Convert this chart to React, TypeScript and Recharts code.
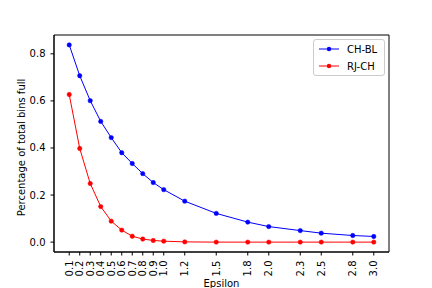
import React from 'react';
import {
  LineChart,
  Line,
  XAxis,
  YAxis,
  ReferenceArea,
} from 'recharts';

// epsilon values on the x axis
const epsilon = [0.1, 0.2, 0.3, 0.4, 0.5, 0.6, 0.7, 0.8, 0.9, 1.0, 1.2, 1.5, 1.8, 2.0, 2.3, 2.5, 2.8, 3.0];

// percentage of total bins full
const chBl = [0.838, 0.707, 0.601, 0.513, 0.444, 0.38, 0.334, 0.291, 0.253, 0.223, 0.174, 0.122, 0.085, 0.066, 0.049, 0.038, 0.028, 0.024];
const rjCh = [0.627, 0.398, 0.249, 0.151, 0.089, 0.051, 0.025, 0.013, 0.007, 0.004, 0.001, 0.0, 0.0, 0.0, 0.0, 0.0, 0.0, 0.0];

const yTicks = [0, 0.2, 0.4, 0.6, 0.8];

const seriesNames = ['CH-BL', 'RJ-CH'];
const seriesColors = ['#0000ff', '#ff0000'];

const xDomain: [number, number] = [-0.045, 3.145];
const yDomain: [number, number] = [-0.042, 0.88];

const data = epsilon.map((e, i) => ({ eps: e, chbl: chBl[i], rjch: rjCh[i] }));

const FONT = '"DejaVu Sans", sans-serif';

const XTick = (props: any) => {
  const { x, y, payload } = props;
  const ty = y + 3;
  return (
    <text
      x={x}
      y={ty}
      transform={`rotate(-90, ${x}, ${ty})`}
      textAnchor="end"
      dominantBaseline="central"
      fontSize={10}
      fontFamily={FONT}
      fill="#000"
    >
      {Number(payload.value).toFixed(1)}
    </text>
  );
};

const YTick = (props: any) => {
  const { x, y, payload } = props;
  return (
    <text x={x - 3} y={y} textAnchor="end" dominantBaseline="central" fontSize={10} fontFamily={FONT} fill="#000">
      {Number(payload.value).toFixed(1)}
    </text>
  );
};

// rotated y axis title, centred on the plot height
const YLabel = (props: any) => {
  const { viewBox } = props;
  const cx = 21;
  const cy = viewBox.y + viewBox.height / 2 + 4;
  return (
    <text
      x={cx}
      y={cy}
      transform={`rotate(-90, ${cx}, ${cy})`}
      textAnchor="middle"
      dominantBaseline="central"
      fontSize={10}
      fontFamily={FONT}
      fill="#000"
    >
      Percentage of total bins full
    </text>
  );
};

const LegendBox = () => (
  <div
    style={{
      position: 'absolute',
      left: 313,
      top: 39,
      width: 72,
      height: 37,
      border: '1px solid #cccccc',
      borderRadius: 3,
      background: 'rgba(255,255,255,0.8)',
      boxSizing: 'border-box',
      fontFamily: FONT,
      fontSize: 10,
    }}
  >
    {seriesNames.map((name, i) => (
      <div key={name} style={{ position: 'absolute', left: 4, top: 2 + i * 17, height: 14, display: 'flex', alignItems: 'center' }}>
        <svg width={22} height={14}>
          <line x1={1} y1={7} x2={21} y2={7} stroke={seriesColors[i]} strokeWidth={1} />
          <circle cx={11} cy={7} r={2.2} fill={seriesColors[i]} />
        </svg>
        <span style={{ marginLeft: 7, color: '#000' }}>{name}</span>
      </div>
    ))}
  </div>
);

export default function App() {
  return (
    <div style={{ position: 'absolute', left: 0, top: 0, width: 432, height: 288, background: '#fff' }}>
      <LineChart width={432} height={288} data={data} margin={{ top: 35, right: 43, left: 0, bottom: 0 }}>
        <XAxis
          dataKey="eps"
          type="number"
          domain={xDomain}
          ticks={epsilon}
          allowDataOverflow
          height={36}
          tick={<XTick />}
          tickSize={3.5}
          tickLine={{ stroke: '#000' }}
          axisLine={{ stroke: '#000' }}
          interval={0}
          label={{ value: 'Epsilon', position: 'insideBottom', offset: 0, dy: -1, fontSize: 10, fontFamily: FONT, fill: '#000' }}
        />
        <YAxis
          type="number"
          domain={yDomain}
          ticks={yTicks}
          allowDataOverflow
          width={54}
          tick={<YTick />}
          tickSize={3.5}
          tickLine={{ stroke: '#000' }}
          axisLine={{ stroke: '#000' }}
          label={<YLabel />}
        />
        <ReferenceArea
          x1={xDomain[0]}
          x2={xDomain[1]}
          y1={yDomain[0]}
          y2={yDomain[1]}
          fill="none"
          fillOpacity={0}
          stroke="#000"
          strokeWidth={1}
          ifOverflow="visible"
        />
        <Line
          type="linear"
          dataKey="chbl"
          name="CH-BL"
          stroke={seriesColors[0]}
          strokeWidth={1}
          dot={{ r: 2.2, fill: seriesColors[0], stroke: seriesColors[0], strokeWidth: 0.5 }}
          isAnimationActive={false}
        />
        <Line
          type="linear"
          dataKey="rjch"
          name="RJ-CH"
          stroke={seriesColors[1]}
          strokeWidth={1}
          dot={{ r: 2.2, fill: seriesColors[1], stroke: seriesColors[1], strokeWidth: 0.5 }}
          isAnimationActive={false}
        />
      </LineChart>
      <LegendBox />
    </div>
  );
}
